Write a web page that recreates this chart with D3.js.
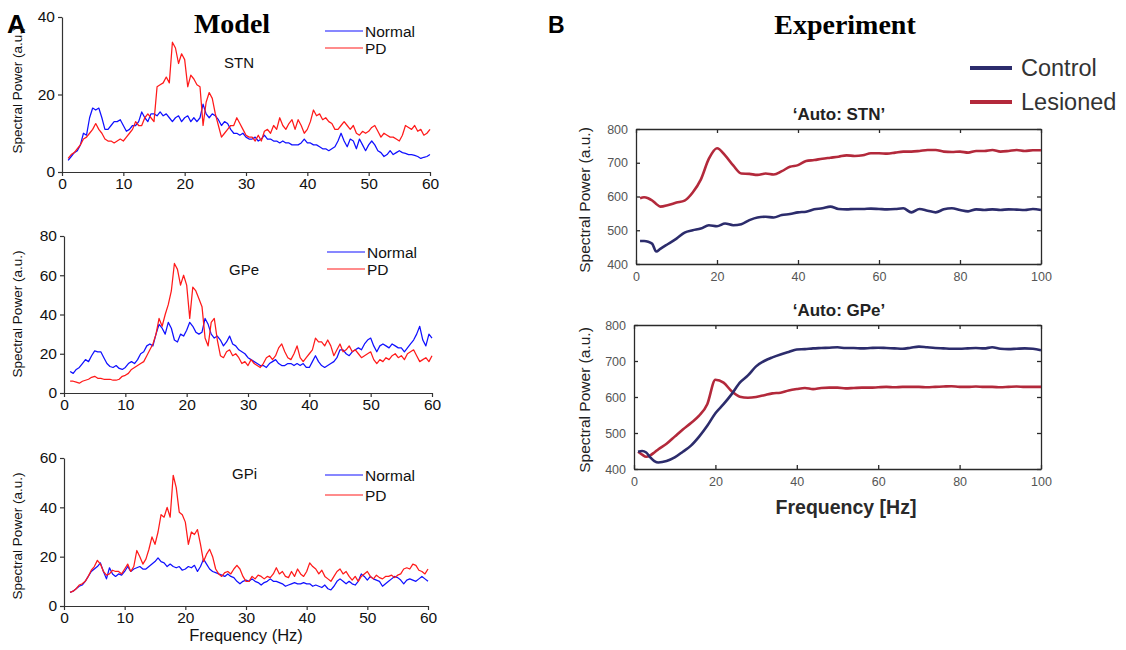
<!DOCTYPE html>
<html><head><meta charset="utf-8">
<script src="https://cdn.jsdelivr.net/npm/d3@7"></script>
<style>body{margin:0;background:#fff}svg{display:block}</style>
</head><body><svg id="c" width="1126" height="650"></svg>
<script>
// ---------- Panel A (Model) data: frequency grid 1..60 Hz, 0.5 Hz step ----------
const freqA = d3.range(1, 60.001, 0.5);
const xTicksA = [0, 10, 20, 30, 40, 50, 60];
const yTicksSTN = [0, 20, 40];
const yTicksGPe = [0, 20, 40, 60, 80];
const yTicksGPi = [0, 20, 40, 60];

const stnNormal = [
  3,4,5,5.5,7,10,9.5,14,16.5,16,
  16.5,14,11,11,12,13,13,13.5,12,10.5,
  11,12,12,13,15.5,14,13,15,15,14.5,
  15.5,14.5,15,14,13,14,14.5,13,14,14.5,
  13,14,13,14,17.5,15,14,15,14.5,13.5,
  12,13,12.5,11,10,10,9.5,10,9,8.5,
  8.5,9,8,8.5,9.5,8.5,8.5,8,8,7.5,
  8,7.5,7.5,7,7,7,7.5,8.5,7.5,7.5,
  7,7,6.5,6,6,5.5,6,6.5,8,10,
  8,6.5,8.5,8,6,8.5,7,5.5,7,8,
  7,5.5,5,4,4.5,5.5,4.5,5,5.5,5,
  4.8,4.5,4.5,4.3,4,3.5,3.8,4,4.5
];
const stnPD = [
  3.5,4.5,5,6,7,8.5,9,10,11,12.5,
  11,10,8.5,8,8,7.5,8,8.5,8,9,
  10,11,13,12,12,14,15,14,13,22,
  22.5,23,24.5,23,33.5,32,28,30.5,29,22,
  25,24,22.5,22,12,18,20.5,19,15,12,
  9,10,11,12,12,14,12.5,11,9.5,9,
  9,8,9.5,8,10.5,11,10,12,11,14,
  12,11,12.5,13.5,11,13.5,12,10,11,13,
  16,14.5,15,13.5,14,13,12.5,11,11,12,
  13,12,11,12,10,9.5,10.5,10,10.5,11.5,
  12,10.5,9,10,9.5,9,9,8.5,8,9.5,
  12,11.5,11,12,10.5,11,9.5,10,11
];
const gpeNormal = [
  11,10,12,13,15,17,16,19,21.5,21,
  21,18,15,13.5,13,14,12.5,12,13,15,
  16,15,17,20,21,24,25,24,30,35,
  33,30,36,33,27,26,30,29,32,36,
  34,31,30,31,38,35,30,28,29,27,
  24,26,29,25,24,22,21,20,18,17,
  16,15,14,14,13,15,16,17,15,14,
  14,15,15,14,15,14,15,13,13,16,
  19,16,14,13,14,15,16,18,22,22,
  20,19,21,22,23,22,25,27,28,24,
  21,24,25,24,23,25,24,23,23,21,
  23,25,27,30,34,27,24,30,28
];
const gpePD = [
  6,6,5.5,5,6,6.5,7,8,8.5,7.5,
  7.5,7,7,7,6.5,6.5,7,8.5,9,10,
  12,13,14,15,16,19,22,25,30,38,
  34,40,45,52,66,63,55,60,55,38,
  54,52,48,44,28,24,36,38,27,19,
  18,21,22,19,20,18,15,16,14,17,
  15,14,13,15,18,19,17,19,23,25,
  21,18,17,20,24,18,16,18,20,22,
  28,26,26,24,27,24,19,22,25,21,
  22,24,21,22,20,18,19,20,21,17,
  15,17,16,18,17,19,20,18,19,17,
  20,21,22,19,16,17,18,16,19
];
const gpiNormal = [
  5.5,6,7,8,8.5,10,12,14,15,16,
  17.5,14,11,15.5,13,12,13,12.5,14,16,
  14,15,15.5,16,15,15,16,17,18,19.5,
  18,17.5,16,17,16,15.5,16,14.5,15,16,
  15.5,16.5,14,16,19,17,15,14,13.5,13,
  12.5,12,13,12,11.5,10,9,10,10.5,10,
  11,10,9.5,8.5,9.5,10,11,10,10,9.5,
  9,8,8.5,9,9.5,9,9,9.5,9,9,
  8,8.5,8,7.5,8.5,7,6.5,8,10,11,
  10,9,10,9,8.5,10,13,12,10.5,12,
  11,10.5,10,8,9,10,11,12,11.5,10.5,
  9,10.5,11,10.5,10,11,12,11,10
];
const gpiPD = [
  5.5,6,7,8.5,9,10,12,14.5,16,18.5,
  17,14,12.5,13,14.5,14,14,13,15,17,
  14,16,22.5,20,17,19,23,28,25,30,
  37,36,40,36,53,48,38,37,34,25,
  30,29,31,25,18,21,23,20,15,13,
  12,13.5,14,13,15,16.5,15,12,10,10,
  12,11,12.5,12,11,12,11.5,13,15.5,13,
  14,12,11.5,14,12,15,13,12,14,17.5,
  16,15,13,14.5,12,11,10,12,14,15,
  13,14,12,10.5,12,10,12,13,14,12,
  11,12.5,11.5,11,12,12,12.5,11.5,12.5,13,
  15,15.5,15,17,16.5,14.5,14,13,15
];
const seriesNamesA = ['Normal', 'PD'];

// ---------- Panel B (Experiment) data ----------
const freqB = [1,2,3,4,5,6,8,10,12,14,16,18,20,22,24,26,28,30,32,34,36,38,40,42,44,46,48,50,
  52,54,56,58,60,62,64,66,68,70,72,74,76,78,80,82,84,86,88,90,92,94,96,98,100];
const xTicksB = [0, 20, 40, 60, 80, 100];
const yTicksB = [400, 500, 600, 700, 800];
const stnLesioned = [595,598,595,588,578,570,
  575,582,588,612,650,712,743,722,692,668,
  667,664,668,665,675,688,693,705,708,712,
  715,718,722,720,722,728,728,727,730,733,
  733,735,738,738,733,732,733,730,735,735,
  738,733,735,738,735,737,737];
const stnControl = [468,468,466,460,437,445,
  460,475,493,500,505,515,512,520,515,518,
  530,538,540,538,545,548,553,555,562,565,
  570,563,562,563,563,564,563,562,563,565,
  553,563,558,553,562,565,560,556,562,560,
  562,560,562,561,560,563,560];
const gpeLesioned = [448,440,434,438,446,455,
  470,490,510,528,548,580,648,640,616,601,
  598,600,605,610,612,618,622,625,622,625,
  626,626,624,625,626,626,627,628,627,628,
  628,628,627,628,629,630,628,628,629,628,
  628,627,628,629,628,628,628];
const gpeControl = [448,450,446,432,422,418,
  422,432,448,465,490,520,555,580,608,640,
  660,685,700,710,718,725,732,733,735,736,
  737,738,736,736,735,736,737,736,735,734,
  737,740,738,736,735,734,734,735,736,735,
  738,734,733,734,735,734,730];
const seriesNamesB = ['Control', 'Lesioned'];

// ---------- drawing ----------
const svg = d3.select('#c');
svg.append('rect').attr('width', 1126).attr('height', 650).attr('fill', '#fff');
const SANS = "'Liberation Sans', Arial, sans-serif";
const SERIF = "'Liberation Serif', 'Times New Roman', serif";
const BLUE = '#1010ff', RED = '#ff1a1a';
const NAVY = '#2c2c6c', CRIMSON = '#b3293b';

// headers
svg.append('text').attr('x', 7).attr('y', 33).text('A')
  .attr('font-family', SANS).attr('font-weight', 'bold').attr('font-size', 26).attr('fill', '#000');
svg.append('text').attr('x', 232).attr('y', 33).attr('text-anchor', 'middle').text('Model')
  .attr('font-family', SERIF).attr('font-weight', 'bold').attr('font-size', 28).attr('fill', '#000');
svg.append('text').attr('x', 548).attr('y', 33).text('B')
  .attr('font-family', SANS).attr('font-weight', 'bold').attr('font-size', 23).attr('fill', '#000');
svg.append('text').attr('x', 845).attr('y', 34).attr('text-anchor', 'middle').text('Experiment')
  .attr('font-family', SERIF).attr('font-weight', 'bold').attr('font-size', 28).attr('fill', '#000');

const panelsA = [
  {label: 'STN', normal: stnNormal, pd: stnPD, ymax: 40, yticks: yTicksSTN,
   x0: 62, x1: 430, top: 17, bot: 172, legY: 31, legY2: 48, legX: 325, labX: 224, labY: 68, titY: 90},
  {label: 'GPe', normal: gpeNormal, pd: gpePD, ymax: 80, yticks: yTicksGPe,
   x0: 64, x1: 432, top: 236, bot: 393, legY: 252, legY2: 269, legX: 327, labX: 229, labY: 275, titY: 314},
  {label: 'GPi', normal: gpiNormal, pd: gpiPD, ymax: 60, yticks: yTicksGPi,
   x0: 64, x1: 428, top: 458, bot: 606, legY: 475, legY2: 495, legX: 325, labX: 232, labY: 479, titY: 536, xlabel: true}
];

panelsA.forEach(p => {
  const g = svg.append('g');
  const x = d3.scaleLinear().domain([0, 60]).range([p.x0, p.x1]);
  const y = d3.scaleLinear().domain([0, p.ymax]).range([p.bot, p.top]);
  const xa = g.append('g').attr('transform', `translate(0,${p.bot})`)
    .call(d3.axisBottom(x).tickValues(xTicksA).tickSize(4).tickSizeOuter(0).tickPadding(2));
  const ya = g.append('g').attr('transform', `translate(${p.x0},0)`)
    .call(d3.axisLeft(y).tickValues(p.yticks).tickSize(4).tickSizeOuter(0).tickPadding(3));
  [xa, ya].forEach(a => {
    a.selectAll('path,line').attr('stroke', '#333').attr('stroke-width', 1.2);
    a.selectAll('text').attr('font-family', SANS).attr('font-size', 15.5).attr('fill', '#111');
  });
  const line = d3.line().x((d, i) => x(freqA[i])).y(d => y(d));
  g.append('path').datum(p.normal).attr('d', line).attr('fill', 'none')
    .attr('stroke', BLUE).attr('stroke-width', 1.25).attr('stroke-linejoin', 'round');
  g.append('path').datum(p.pd).attr('d', line).attr('fill', 'none')
    .attr('stroke', RED).attr('stroke-width', 1.25).attr('stroke-linejoin', 'round');
  // legend
  [[seriesNamesA[0], BLUE, p.legY], [seriesNamesA[1], RED, p.legY2]].forEach(([n, c, yy]) => {
    g.append('line').attr('x1', p.legX).attr('x2', p.legX + 38).attr('y1', yy).attr('y2', yy)
      .attr('stroke', c).attr('stroke-width', 1.2);
    g.append('text').attr('x', p.legX + 40).attr('y', yy + 5.5).text(n)
      .attr('font-family', SANS).attr('font-size', 15.5).attr('fill', '#111');
  });
  g.append('text').attr('x', p.labX).attr('y', p.labY).text(p.label)
    .attr('font-family', SANS).attr('font-size', 15).attr('fill', '#111');
  g.append('text').attr('transform', `translate(22,${p.titY}) rotate(-90)`)
    .attr('text-anchor', 'middle').text('Spectral Power (a.u.)')
    .attr('font-family', SANS).attr('font-size', 13.5).attr('fill', '#111');
  if (p.xlabel) {
    g.append('text').attr('x', 246).attr('y', 641).attr('text-anchor', 'middle').text('Frequency (Hz)')
      .attr('font-family', SANS).attr('font-size', 16.5).attr('fill', '#111');
  }
});

const panelsB = [
  {title: '\u2018Auto: STN\u2019', control: stnControl, lesioned: stnLesioned,
   left: 636, right: 1041, top: 129, bot: 264, titY: 120, ytY: 200},
  {title: '\u2018Auto: GPe\u2019', control: gpeControl, lesioned: gpeLesioned,
   left: 634, right: 1041, top: 325, bot: 469, titY: 316, ytY: 400, xlabel: true}
];

panelsB.forEach(p => {
  const g = svg.append('g');
  const x = d3.scaleLinear().domain([0, 100]).range([p.left, p.right]);
  const y = d3.scaleLinear().domain([400, 800]).range([p.bot, p.top]);
  const axes = [
    g.append('g').attr('transform', `translate(0,${p.bot})`)
      .call(d3.axisBottom(x).tickValues(xTicksB).tickSize(-4).tickSizeOuter(0).tickPadding(8)),
    g.append('g').attr('transform', `translate(0,${p.top})`)
      .call(d3.axisTop(x).tickValues(xTicksB).tickSize(-4).tickSizeOuter(0).tickFormat('')),
    g.append('g').attr('transform', `translate(${p.left},0)`)
      .call(d3.axisLeft(y).tickValues(yTicksB).tickSize(-4).tickSizeOuter(0).tickPadding(8)),
    g.append('g').attr('transform', `translate(${p.right},0)`)
      .call(d3.axisRight(y).tickValues(yTicksB).tickSize(-4).tickSizeOuter(0).tickFormat(''))
  ];
  axes.forEach(a => {
    a.selectAll('path,line').attr('stroke', '#2a2a2a').attr('stroke-width', 1.3);
    a.selectAll('text').attr('font-family', SANS).attr('font-size', 12.5).attr('fill', '#555');
  });
  const line = d3.line().x((d, i) => x(freqB[i])).y(d => y(d)).curve(d3.curveMonotoneX);
  g.append('path').datum(p.lesioned).attr('d', line).attr('fill', 'none')
    .attr('stroke', CRIMSON).attr('stroke-width', 2.6).attr('stroke-linejoin', 'round');
  g.append('path').datum(p.control).attr('d', line).attr('fill', 'none')
    .attr('stroke', NAVY).attr('stroke-width', 2.6).attr('stroke-linejoin', 'round');
  g.append('text').attr('x', 839).attr('y', p.titY).attr('text-anchor', 'middle').text(p.title)
    .attr('font-family', SANS).attr('font-weight', 'bold').attr('font-size', 17).attr('fill', '#222');
  g.append('text').attr('transform', `translate(590,${p.ytY}) rotate(-90)`)
    .attr('text-anchor', 'middle').text('Spectral Power (a.u.)')
    .attr('font-family', SANS).attr('font-size', 15.5).attr('fill', '#222');
  if (p.xlabel) {
    g.append('text').attr('x', 846).attr('y', 514).attr('text-anchor', 'middle').text('Frequency [Hz]')
      .attr('font-family', SANS).attr('font-weight', 'bold').attr('font-size', 19.5).attr('fill', '#2a2a2a');
  }
});

// Panel B legend
[[seriesNamesB[0], NAVY, 68], [seriesNamesB[1], CRIMSON, 102]].forEach(([n, c, yy]) => {
  svg.append('line').attr('x1', 970).attr('x2', 1012).attr('y1', yy).attr('y2', yy)
    .attr('stroke', c).attr('stroke-width', 4);
  svg.append('text').attr('x', 1021).attr('y', yy + 8).text(n)
    .attr('font-family', SANS).attr('font-size', 23.5).attr('fill', '#333');
});
</script></body></html>
